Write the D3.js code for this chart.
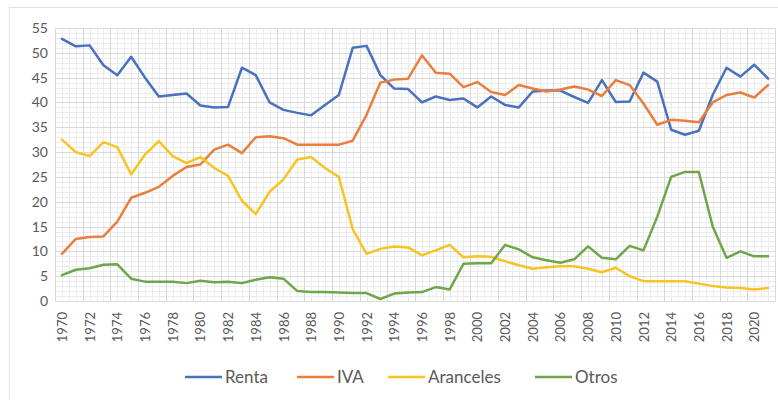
<!DOCTYPE html>
<html>
<head>
<meta charset="utf-8">
<script src="https://cdn.jsdelivr.net/npm/d3@7"></script>
<style>
  body { margin: 0; background: #fff; }
  text { font-family: Lato, 'Open Sans', sans-serif; fill: #595959; }
</style>
</head>
<body>
<svg id="chart"></svg>
<script>
const years = d3.range(1970, 2022)

const renta = [52.8, 51.3, 51.5, 47.5, 45.5, 49.2, 45.0, 41.2, 41.5, 41.8,
  39.4, 39.0, 39.1, 47.0, 45.5, 40.0, 38.5, 37.9, 37.4, 39.5,
  41.5, 51.0, 51.4, 45.5, 42.8, 42.7, 40.0, 41.2, 40.5, 40.8,
  39.0, 41.2, 39.5, 39.0, 42.2, 42.4, 42.4, 41.1, 39.9, 44.5,
  40.1, 40.2, 46.0, 44.2, 34.5, 33.5, 34.3, 41.5, 47.0, 45.2,
  47.6, 44.8]

const iva = [9.5, 12.5, 12.9, 13.0, 16.0, 20.8, 21.8, 23.0, 25.2, 27.0,
  27.5, 30.5, 31.5, 29.8, 33.0, 33.2, 32.8, 31.5, 31.5, 31.5,
  31.5, 32.3, 37.5, 44.0, 44.6, 44.8, 49.5, 46.0, 45.8, 43.1,
  44.1, 42.1, 41.5, 43.5, 42.8, 42.2, 42.6, 43.2, 42.6, 41.3,
  44.5, 43.5, 39.8, 35.5, 36.5, 36.3, 36.0, 40.0, 41.5, 42.0,
  41.0, 43.5]

const aranceles = [32.5, 30.0, 29.2, 32.0, 31.0, 25.5, 29.5, 32.2, 29.2, 27.8,
  29.0, 26.8, 25.2, 20.2, 17.5, 22.0, 24.5, 28.5, 29.0, 26.8,
  25.0, 14.5, 9.5, 10.5, 11.0, 10.8, 9.2, 10.2, 11.3, 8.8,
  9.0, 8.9, 8.0, 7.2, 6.5, 6.8, 7.0, 7.0, 6.5, 5.8,
  6.7, 5.0, 4.0, 4.0, 4.0, 4.0, 3.5, 3.0, 2.7, 2.6,
  2.3, 2.6]

const otros = [5.2, 6.3, 6.6, 7.3, 7.4, 4.5, 3.9, 3.9, 3.9, 3.6,
  4.1, 3.8, 3.9, 3.6, 4.3, 4.8, 4.5, 2.0, 1.8, 1.8,
  1.7, 1.6, 1.6, 0.4, 1.5, 1.7, 1.8, 2.8, 2.3, 7.5,
  7.6, 7.6, 11.3, 10.4, 8.8, 8.2, 7.7, 8.4, 11.0, 8.7,
  8.4, 11.1, 10.2, 17.0, 25.0, 26.0, 26.0, 15.0, 8.7, 10.0,
  9.0, 9.0]

const seriesNames = ['Renta', 'IVA', 'Aranceles', 'Otros']
const seriesColors = ['#4a71be', '#e97f3f', '#f7c421', '#6fa64a']
const yTicks = d3.range(0, 56, 5)

const width = 778
const height = 400

const svg = d3.select('#chart')
  .attr('width', width)
  .attr('height', height)

// outer chart border
svg.append('rect')
  .attr('x', 9.5).attr('y', 7.5)
  .attr('width', 780).attr('height', 400)
  .attr('fill', 'none')
  .attr('stroke', '#e3e3e3')

const x = d3.scalePoint()
  .domain(years)
  .range([55, 775])
  .padding(0.5)

const y = d3.scaleLinear()
  .domain([0, 55])
  .range([301, 28])

const step = x.step()

// minor grid
const grid = svg.append('g')
grid.selectAll('.hminor')
  .data(d3.range(0, 56, 1).filter(v => v % 5 !== 0))
  .enter().append('line')
  .attr('x1', 55).attr('x2', 775)
  .attr('y1', d => Math.round(y(d)) + 0.5)
  .attr('y2', d => Math.round(y(d)) + 0.5)
  .attr('stroke', '#ececec')

grid.selectAll('.vminor')
  .data(d3.range(0, years.length * 2 + 1))
  .enter().append('line')
  .attr('x1', d => Math.round(55 + d * step / 2) + 0.5)
  .attr('x2', d => Math.round(55 + d * step / 2) + 0.5)
  .attr('y1', 28).attr('y2', 301)
  .attr('stroke', '#ececec')

// major grid
grid.selectAll('.hmajor')
  .data(yTicks)
  .enter().append('line')
  .attr('x1', 55).attr('x2', 775)
  .attr('y1', d => Math.round(y(d)) + 0.5)
  .attr('y2', d => Math.round(y(d)) + 0.5)
  .attr('stroke', '#d9d9d9')

grid.selectAll('.vmajor')
  .data(d3.range(0, years.length + 1, 2))
  .enter().append('line')
  .attr('x1', d => Math.round(55 + d * step) + 0.5)
  .attr('x2', d => Math.round(55 + d * step) + 0.5)
  .attr('y1', 28).attr('y2', 301)
  .attr('stroke', '#d9d9d9')

// y axis labels
const yAxis = svg.append('g')
  .attr('transform', 'translate(48,0)')
  .call(d3.axisLeft(y).tickValues(yTicks).tickSize(0).tickPadding(0))
yAxis.select('.domain').remove()
yAxis.selectAll('text')
  .attr('font-size', 14)
  .attr('fill', '#595959')
  .style('font-family', 'Lato, sans-serif')

// x axis labels, every 2 years, rotated
const xAxis = svg.append('g')
  .attr('transform', 'translate(0,301)')
  .call(d3.axisBottom(x).tickValues(years.filter(d => d % 2 === 0)).tickSize(0))
xAxis.select('.domain').attr('stroke', '#d9d9d9')
xAxis.selectAll('text')
  .attr('font-size', 13)
  .attr('fill', '#595959')
  .style('font-family', 'Lato, sans-serif')
  .attr('transform', 'rotate(-90)')
  .attr('text-anchor', 'end')
  .attr('dx', '-11')
  .attr('dy', '0.35em')
  .attr('x', 0).attr('y', 0)

// lines
const allSeries = [renta, iva, aranceles, otros]
const line = d3.line()
  .x((d, i) => x(years[i]))
  .y(d => y(d))

svg.append('g').selectAll('path')
  .data(allSeries)
  .enter().append('path')
  .attr('d', d => line(d))
  .attr('fill', 'none')
  .attr('stroke', (d, i) => seriesColors[i])
  .attr('stroke-width', 2.5)
  .attr('stroke-linejoin', 'round')
  .attr('stroke-linecap', 'round')

// legend
const legendX = [185, 297, 388, 535]
const legend = svg.append('g')
  .selectAll('g')
  .data(seriesNames)
  .enter().append('g')
  .attr('transform', (d, i) => `translate(${legendX[i]},377)`)

legend.append('line')
  .attr('x1', 0).attr('x2', 37)
  .attr('stroke', (d, i) => seriesColors[i])
  .attr('stroke-width', 2.5)

legend.append('text')
  .attr('x', 40)
  .attr('dy', '0.35em')
  .attr('font-size', 17)
  .text(d => d)
</script>
</body>
</html>
